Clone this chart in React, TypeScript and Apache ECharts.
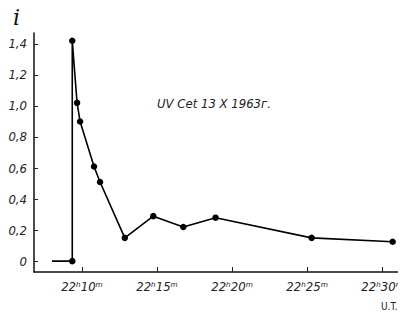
import React, { useEffect, useRef } from "react";
import * as echarts from "echarts";

// Time in minutes after 22h (U.T.), intensity i
const times = [8.0, 9.35, 9.35, 9.67, 9.87, 10.8, 11.2, 12.85, 14.75, 16.75, 18.9, 25.3, 30.7];
const values = [0, 0, 1.42, 1.02, 0.9, 0.61, 0.51, 0.15, 0.29, 0.22, 0.28, 0.15, 0.125];
const showMarker = [false, true, true, true, true, true, true, true, true, true, true, true, true];

const xTickValues = [10, 15, 20, 25, 30];
const xTickLabels = ["22ʰ10ᵐ", "22ʰ15ᵐ", "22ʰ20ᵐ", "22ʰ25ᵐ", "22ʰ30ᵐ"];
const yTickValues = [0, 0.2, 0.4, 0.6, 0.8, 1.0, 1.2, 1.4];
const yTickLabels = ["0", "0,2", "0,4", "0,6", "0,8", "1,0", "1,2", "1,4"];

const titleText = "UV Cet 13 X 1963г.";
const yName = "i";
const xName = "U.T.";

const FONT = "'DejaVu Sans Condensed', 'Liberation Sans Narrow', 'Liberation Sans', sans-serif";

export default function App() {
  const ref = useRef<HTMLDivElement>(null);
  useEffect(() => {
    if (!ref.current) return;
    const chart = echarts.init(ref.current, null, { renderer: "svg" });
    const data = times.map((t, i) => ({
      value: [t, values[i]],
      symbolSize: showMarker[i] ? 6.5 : 0,
    }));
    chart.setOption({
      animation: false,
      backgroundColor: "#ffffff",
      grid: { left: 34, right: 3, top: 33, bottom: 48 },
      xAxis: {
        type: "value",
        min: 6.8,
        max: 31.33,
        axisLine: { show: true, onZero: false, lineStyle: { color: "#111", width: 1.5 } },
        axisTick: {
          show: true,
          inside: true,
          length: 5,
          customValues: xTickValues,
          lineStyle: { color: "#222", width: 1 },
        },
        axisLabel: {
          customValues: xTickValues,
          margin: 8,
          color: "#222",
          fontSize: 13,
          fontStyle: "italic",
          fontFamily: FONT,
          formatter: (v: number) => {
            const idx = xTickValues.findIndex((x) => Math.abs(x - v) < 1e-6);
            return idx >= 0 ? xTickLabels[idx] : "";
          },
        },
        splitLine: { show: false },
      },
      yAxis: {
        type: "value",
        min: -0.07,
        max: 1.47,
        axisLine: { show: true, onZero: false, lineStyle: { color: "#111", width: 1.5 } },
        axisTick: {
          show: true,
          inside: true,
          length: 4,
          customValues: yTickValues,
          lineStyle: { color: "#222", width: 1 },
        },
        axisLabel: {
          customValues: yTickValues,
          margin: 7,
          color: "#222",
          fontSize: 13,
          fontStyle: "italic",
          fontFamily: FONT,
          formatter: (v: number) => {
            const idx = yTickValues.findIndex((x) => Math.abs(x - v) < 1e-6);
            return idx >= 0 ? yTickLabels[idx] : "";
          },
        },
        splitLine: { show: false },
      },
      series: [
        {
          type: "line",
          data,
          symbol: "circle",
          itemStyle: { color: "#000" },
          lineStyle: { color: "#000", width: 1.6 },
        },
      ],
      graphic: [
        {
          type: "text",
          left: 13,
          top: 6,
          style: {
            text: yName,
            fontSize: 22,
            fontStyle: "italic",
            fontFamily: "'DejaVu Serif', serif",
            fill: "#111",
          },
        },
        {
          type: "text",
          left: 157,
          top: 97,
          style: {
            text: titleText,
            fontSize: 13,
            fontStyle: "italic",
            fontFamily: FONT,
            fill: "#222",
          },
        },
        {
          type: "text",
          left: 381,
          top: 301,
          style: {
            text: xName,
            fontSize: 10,
            fontFamily: FONT,
            fill: "#222",
          },
        },
      ],
    });
    return () => chart.dispose();
  }, []);
  return <div ref={ref} style={{ width: 406, height: 320, margin: -8 }} />;
}
